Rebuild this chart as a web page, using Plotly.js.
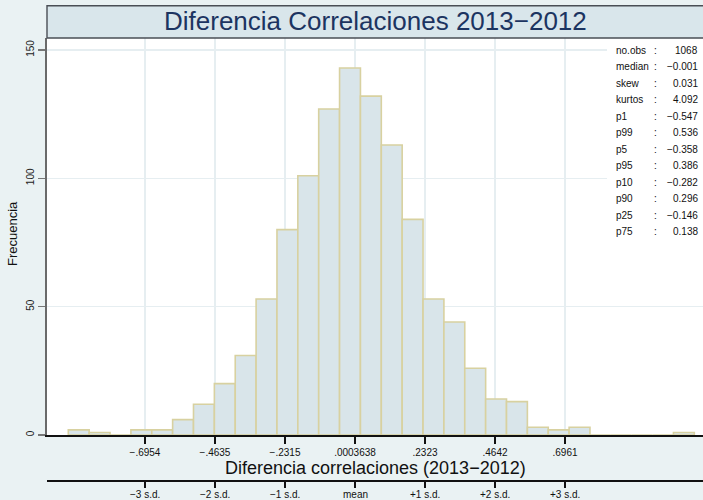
<!DOCTYPE html>
<html>
<head>
<meta charset="utf-8">
<script src="https://cdn.plot.ly/plotly-3.0.1.min.js"></script>
<style>html,body{margin:0;padding:0;background:#eaf2f3;}#chart{width:703px;height:500px;}</style>
</head>
<body>
<div id="chart"></div>
<script>
// ---- data ----
const counts = [2, 1, 0, 2, 2, 6, 12, 20, 31, 53, 80, 101, 127, 143, 132, 113, 84, 53, 44, 26, 14, 13, 3, 2, 3, 0, 0, 0, 0, 1];
const binStart = -0.9495;
const binWidth = 0.069135;

const tickVals = [-0.6954, -0.4635, -0.2315, 0.0003638, 0.2323, 0.4642, 0.6961];
const tickText = ["\u2212.6954", "\u2212.4635", "\u2212.2315", ".0003638", ".2323", ".4642", ".6961"];
const sdText = ["\u22123 s.d.", "\u22122 s.d.", "\u22121 s.d.", "mean", "+1 s.d.", "+2 s.d.", "+3 s.d."];

const statLabels = ["no.obs", "median", "skew", "kurtos", "p1", "p99", "p5", "p95", "p10", "p90", "p25", "p75"];
const statValues = ["1068", "\u22120.001", "0.031", "4.092", "\u22120.547", "0.536", "\u22120.358", "0.386", "\u22120.282", "0.296", "\u22120.146", "0.138"];

const titleText = "Diferencia Correlaciones 2013\u22122012";
const xTitle = "Diferencia correlaciones (2013\u22122012)";
const yTitle = "Frecuencia";

// ---- layout geometry ----
const W = 703, H = 500;
const mL = 47, mR = 0, mT = 38, mB = 10;
const plotW = W - mL - mR, plotH = H - mT - mB;
const px2x = p => (p - mL) / plotW;
const py2y = p => (H - mB - p) / plotH;

const centers = counts.map((c, i) => binStart + (i + 0.5) * binWidth);

const FONT = "Liberation Sans, Arial, Helvetica, sans-serif";
const gridCol = "#e6eef1";

const trace = {
  type: "bar",
  x: centers,
  y: counts,
  width: binWidth,
  marker: { color: "#d9e5ea", line: { color: "#d8d1a0", width: 1.6 } },
  xaxis: "x", yaxis: "y",
  hoverinfo: "x+y"
};
// invisible trace to activate the secondary s.d. axis
const dummy = { type: "scatter", x: [tickVals[0]], y: [0], xaxis: "x2", yaxis: "y", mode: "markers", marker: { opacity: 0 }, hoverinfo: "skip", showlegend: false };

const xRange = [-1.02006, 1.15333];

const annotations = [];
annotations.push({ xref: "paper", yref: "paper", x: 0.5, y: py2y(21), text: titleText, showarrow: false, xanchor: "center", yanchor: "middle", font: { family: FONT, size: 26, color: "#1c3461" } });
annotations.push({ xref: "paper", yref: "paper", x: 0.5, y: py2y(467.5), text: xTitle, showarrow: false, borderpad: 0, xanchor: "center", yanchor: "middle", font: { family: FONT, size: 18, color: "#111" } });
annotations.push({ xref: "paper", yref: "paper", x: px2x(12), y: py2y(234), text: yTitle, textangle: -90, showarrow: false, xanchor: "center", yanchor: "middle", font: { family: FONT, size: 13, color: "#111" } });

sdText.forEach((t, i) => {
  annotations.push({ xref: "x", yref: "paper", x: tickVals[i], y: py2y(494), text: t, showarrow: false, xanchor: "center", yanchor: "middle", font: { family: FONT, size: 10, color: "#111" } });
});

statLabels.forEach((lab, i) => {
  const yy = py2y(50 + i * 16.5);
  annotations.push({ xref: "paper", yref: "paper", x: px2x(614), y: yy, text: lab, showarrow: false, xanchor: "left", yanchor: "middle", font: { family: FONT, size: 10, color: "#111" } });
  annotations.push({ xref: "paper", yref: "paper", x: px2x(655), y: yy, text: ":", showarrow: false, xanchor: "center", yanchor: "middle", font: { family: FONT, size: 10, color: "#111" } });
  annotations.push({ xref: "paper", yref: "paper", x: px2x(700), y: yy, text: statValues[i], showarrow: false, xanchor: "right", yanchor: "middle", font: { family: FONT, size: 10, color: "#111" } });
});

const layout = {
  width: W, height: H,
  margin: { l: mL, r: mR, t: mT, b: mB, pad: 0 },
  paper_bgcolor: "#eaf2f3",
  plot_bgcolor: "#ffffff",
  showlegend: false,
  bargap: 0,
  font: { family: FONT, color: "#111" },
  xaxis: {
    range: xRange, anchor: "y",
    tickmode: "array", tickvals: tickVals, ticktext: tickText,
    ticks: "outside", ticklen: 7, tickwidth: 1.3, tickcolor: "#111",
    showline: true, linecolor: "#111", linewidth: 1.6,
    showgrid: true, gridcolor: gridCol, gridwidth: 1.6,
    zeroline: false,
    tickfont: { family: FONT, size: 10, color: "#111" }
  },
  xaxis2: {
    range: xRange, overlaying: "x", anchor: "free", position: py2y(480), side: "bottom",
    tickmode: "array", tickvals: tickVals, showticklabels: false,
    ticks: "outside", ticklen: 6, tickwidth: 1.3, tickcolor: "#111",
    showline: true, linecolor: "#111", linewidth: 1.6,
    showgrid: false, zeroline: false
  },
  yaxis: {
    domain: [py2y(435), 1],
    range: [0, 154.66],
    tickmode: "array", tickvals: [0, 50, 100, 150], ticktext: ["0", "50", "100", "150"],
    ticks: "outside", ticklen: 7, tickwidth: 1.3, tickcolor: "#777",
    tickangle: -90,
    showline: true, linecolor: "#6a6a6a", linewidth: 1.6,
    showgrid: true, gridcolor: gridCol, gridwidth: 1.6,
    zeroline: false,
    tickfont: { family: FONT, size: 10, color: "#222" }
  },
  shapes: [
    { type: "rect", xref: "paper", yref: "paper", x0: 0, x1: 1.01, y0: 1, y1: py2y(5.7), fillcolor: "#d9e6eb", line: { color: "#4a4f55", width: 1.4 }, layer: "above" },
    { type: "rect", xref: "paper", yref: "paper", x0: px2x(607), x1: 1.01, y0: py2y(242), y1: py2y(39), fillcolor: "#ffffff", line: { width: 0 }, layer: "above" }
  ],
  annotations: annotations
};

Plotly.newPlot("chart", [trace, dummy], layout, { displayModeBar: false, staticPlot: true });
</script>
</body>
</html>
